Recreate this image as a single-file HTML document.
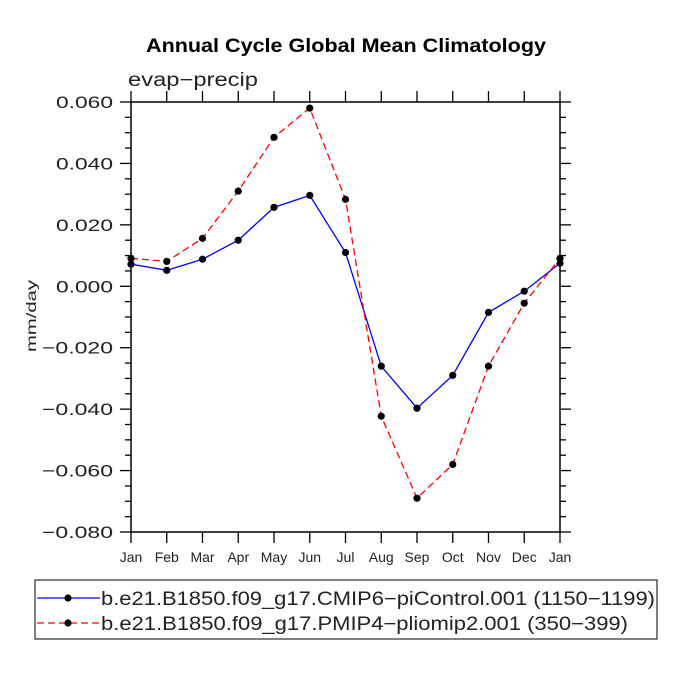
<!DOCTYPE html>
<html><head><meta charset="utf-8"><style>
html,body{margin:0;padding:0;background:#fff;}
svg{display:block;font-family:"Liberation Sans",sans-serif;}
</style></head><body>
<svg id="chart" width="675" height="675" viewBox="0 0 675 675">
<text x="346" y="52" text-anchor="middle" font-size="19" font-weight="bold" textLength="400" lengthAdjust="spacingAndGlyphs">Annual Cycle Global Mean Climatology</text>
<text x="128" y="86" font-size="19" textLength="130" lengthAdjust="spacingAndGlyphs" fill="#222">evap−precip</text>
<text transform="translate(36,316) rotate(-90)" text-anchor="middle" font-size="14" textLength="72" lengthAdjust="spacingAndGlyphs" fill="#222">mm/day</text>
<g id="axes"></g>
<g id="series"></g>
<g id="legend">
<rect x="35" y="580" width="622" height="59" fill="#fff" stroke="#000" stroke-width="1"/>
</g>
</svg>
<script>
const months = ["Jan","Feb","Mar","Apr","May","Jun","Jul","Aug","Sep","Oct","Nov","Dec","Jan"];
const controlValues = [0.0072,0.0052,0.0088,0.015,0.0257,0.0296,0.011,-0.026,-0.0397,-0.029,-0.0085,-0.0016,0.0075];
const pliomipValues = [0.0091,0.0081,0.0156,0.031,0.0485,0.058,0.0283,-0.0423,-0.069,-0.058,-0.026,-0.0055,0.0091];
const yTicks = [0.06,0.04,0.02,0,-0.02,-0.04,-0.06,-0.08];
const yTickLabels = ["0.060","0.040","0.020","0.000","−0.020","−0.040","−0.060","−0.080"];
const seriesNames = ["b.e21.B1850.f09_g17.CMIP6−piControl.001 (1150−1199)","b.e21.B1850.f09_g17.PMIP4−pliomip2.001 (350−399)"];

const NS="http://www.w3.org/2000/svg";
const L=131,R=560,T=102,B=532,ymin=-0.08,ymax=0.06;
const xs=i=>L+(R-L)*i/(months.length-1);
const ys=v=>B-(v-ymin)/(ymax-ymin)*(B-T);
function mk(tag,attrs,parent){const e=document.createElementNS(NS,tag);for(const k in attrs)e.setAttribute(k,attrs[k]);parent.appendChild(e);return e;}
const axes=document.getElementById('axes');
const frame=mk('rect',{x:L,y:T,width:R-L,height:B-T,fill:'none',stroke:'#000','stroke-width':1.5},axes);


for(let k=0;k<=28;k++){
  const v=ymin+k*0.005;
  const y=ys(v);const major=k%4===0;
  const len=major?11:6;
  const t1=mk('line',{x1:L,x2:L-len,y1:y,y2:y,stroke:'#000','stroke-width':1.3},axes);
  
  
  const t2=mk('line',{x1:R,x2:R+len,y1:y,y2:y,stroke:'#000','stroke-width':1.3},axes);
  
  
}
yTicks.forEach((v,i)=>{
  const lab=yTickLabels[i];
  const t=mk('text',{x:113,y:ys(v)+6,'text-anchor':'end','font-size':17,fill:'#222',textLength:lab.length>5?71:57,lengthAdjust:'spacingAndGlyphs'},axes);
  t.textContent=lab;
  
  
});
months.forEach((m,i)=>{
  const x=xs(i);
  const a=mk('line',{x1:x,x2:x,y1:B,y2:B+11,stroke:'#000','stroke-width':1.3},axes);
  
  
  const b=mk('line',{x1:x,x2:x,y1:T,y2:T-11,stroke:'#000','stroke-width':1.3},axes);
  
  
  const t=mk('text',{x:x,y:B+30,'text-anchor':'middle','font-size':14,fill:'#222'},axes);
  t.textContent=m;
  
  
});
const sg=document.getElementById('series');
function drawSeries(vals,color,dash,name){
  const g=mk('g',{},sg);
  
  
  const p=mk('polyline',{points:vals.map((v,i)=>xs(i)+','+ys(v)).join(' '),fill:'none',stroke:color,'stroke-width':1.3,'stroke-dasharray':dash},g);
  
  
  vals.forEach((v,i)=>{
    const c=mk('circle',{cx:xs(i),cy:ys(v),r:3.6,fill:'#000'},g);
    
    
  });
}
drawSeries(controlValues,'#0000ff','none','picontrol-series');
drawSeries(pliomipValues,'#ff0000','7,4','pliomip-series');
const lg=document.getElementById('legend');
[['#0000ff','none',598,554],['#ff0000','7,4',623,527]].forEach((s,i)=>{
  const l=mk('line',{x1:37,x2:100,y1:s[2],y2:s[2],stroke:s[0],'stroke-width':1.3,'stroke-dasharray':s[1]},lg);
  
  
  const c=mk('circle',{cx:68,cy:s[2],r:3.6,fill:'#000'},lg);
  
  
  const t=mk('text',{x:101,y:s[2]+7,'font-size':19,fill:'#222',textLength:s[3],lengthAdjust:'spacingAndGlyphs'},lg);
  t.textContent=seriesNames[i];
  
  
});
</script>
</body></html>
